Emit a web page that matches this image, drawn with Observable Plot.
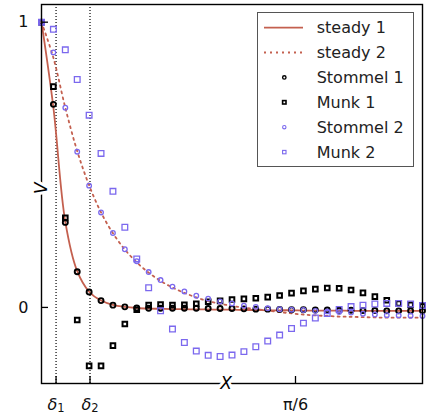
<!DOCTYPE html>
<html>
<head>
<meta charset="utf-8">
<script src="https://cdn.jsdelivr.net/npm/d3@7"></script>
<script src="https://cdn.jsdelivr.net/npm/@observablehq/plot@0.6"></script>
<style>
  html, body { margin: 0; padding: 0; background: white; }
  #chart { width: 430px; height: 418px; }
</style>
</head>
<body>
<div id="chart"></div>
<script>
// sample index (x = index * pi/128, 0 .. pi/4)
const nPts = 33;
const xTickValues = [0.03, 0.1, Math.PI / 6];
const xTickLabels = ["δ1", "δ2", "π/6"];
const yTickValues = [0, 1];
const yTickLabels = ["0", "1"];
const deltaLines = [0.03, 0.1];

const steady1 = [1.0, 0.70, 0.300, 0.127, 0.055, 0.024, 0.009, 0.002, -0.002, -0.004, -0.005, -0.006, -0.006, -0.007, -0.007, -0.008, -0.008, -0.009, -0.009, -0.010, -0.010, -0.010, -0.011, -0.011, -0.011, -0.011, -0.012, -0.012, -0.012, -0.012, -0.012, -0.012, -0.012];
const steady2 = [1.0, 0.875, 0.700, 0.548, 0.428, 0.333, 0.260, 0.203, 0.158, 0.122, 0.093, 0.070, 0.051, 0.035, 0.022, 0.013, 0.005, -0.001, -0.006, -0.011, -0.016, -0.021, -0.025, -0.028, -0.030, -0.032, -0.033, -0.034, -0.035, -0.036, -0.036, -0.036, -0.036];
const stommel1 = [1.0, 0.712, 0.298, 0.125, 0.054, 0.024, 0.008, 0.002, -0.002, -0.003, -0.003, -0.003, -0.003, -0.003, -0.004, -0.004, -0.004, -0.005, -0.006, -0.006, -0.007, -0.008, -0.008, -0.009, -0.009, -0.010, -0.010, -0.011, -0.011, -0.012, -0.012, -0.012, -0.012];
const munk1 = [1.0, 0.774, 0.314, -0.044, -0.205, -0.205, -0.134, -0.058, -0.008, 0.008, 0.010, 0.008, 0.009, 0.013, 0.020, 0.023, 0.028, 0.030, 0.032, 0.036, 0.042, 0.050, 0.058, 0.064, 0.068, 0.067, 0.061, 0.051, 0.038, 0.025, 0.014, 0.009, 0.004];
const stommel2 = [1.0, 0.894, 0.700, 0.546, 0.427, 0.333, 0.261, 0.204, 0.162, 0.124, 0.096, 0.073, 0.056, 0.041, 0.031, 0.021, 0.014, 0.006, 0.002, -0.003, -0.006, -0.008, -0.009, -0.012, -0.014, -0.016, -0.018, -0.022, -0.025, -0.027, -0.028, -0.029, -0.030];
const munk2 = [1.0, 0.975, 0.903, 0.799, 0.674, 0.540, 0.407, 0.281, 0.170, 0.069, -0.012, -0.076, -0.123, -0.153, -0.168, -0.172, -0.167, -0.155, -0.138, -0.118, -0.097, -0.074, -0.055, -0.037, -0.021, -0.007, 0.003, 0.008, 0.012, 0.014, 0.014, 0.012, 0.007];

const RED = "#c4604f";
const BLUE = "#7b68ee";

const xs = d3.range(nPts).map(i => i * Math.PI / 128);
const rows = arr => arr.map((v, i) => ({x: xs[i], v}));

const W = 430, H = 418;
const mL = 41, mR = 8, mT = 4, mB = 35;
const frameW = W - mL - mR, frameH = H - mT - mB;

const chart = Plot.plot({
  width: W, height: H,
  marginLeft: mL, marginRight: mR, marginTop: mT, marginBottom: mB,
  style: {fontFamily: "DejaVu Sans", fontSize: "16px", background: "white", color: "#111", overflow: "visible"},
  x: {domain: [0, Math.PI / 4], ticks: xTickValues, tickFormat: (d, i) => xTickLabels[i], tickSize: 0, tickPadding: 15, label: null},
  y: {domain: [-0.2667, 1.062], ticks: yTickValues, tickFormat: (d, i) => yTickLabels[i], tickSize: 0, tickPadding: 13, label: null},
  marks: [
    Plot.ruleX(deltaLines, {stroke: "black", strokeWidth: 1.2, strokeDasharray: "1,2"}),
    Plot.line(rows(steady1), {x: "x", y: "v", stroke: RED, strokeWidth: 1.8, curve: "catmull-rom"}),
    Plot.line(rows(steady2), {x: "x", y: "v", stroke: RED, strokeWidth: 1.8, strokeDasharray: "2,4", curve: "catmull-rom"}),
    Plot.dot(rows(stommel1), {x: "x", y: "v", r: 2.5, stroke: "black", strokeWidth: 1.9, fill: "none"}),
    Plot.dot(rows(munk1), {x: "x", y: "v", symbol: "square", r: 2.6, stroke: "black", strokeWidth: 2, fill: "none"}),
    Plot.dot(rows(stommel2), {x: "x", y: "v", r: 2.3, stroke: BLUE, strokeWidth: 1.3, fill: "none"}),
    Plot.dot(rows(munk2), {x: "x", y: "v", symbol: "square", r: 3.2, stroke: BLUE, strokeWidth: 1.3, fill: "none"}),
    Plot.frame({stroke: "black", strokeWidth: 1.4}),
    Plot.tickX(xTickValues, {stroke: "black", strokeWidth: 1.3, insetTop: frameH - 7}),
    Plot.tickY(yTickValues, {stroke: "black", strokeWidth: 1.3, insetRight: frameW - 7}),
    Plot.text(["X"], {frameAnchor: "bottom", dx: -6, text: d => d, fontStyle: "italic", fontSize: 17, fill: "black", stroke: "white", strokeWidth: 6, lineAnchor: "middle"}),
    Plot.text(["V"], {frameAnchor: "left", text: d => d, rotate: -90, fontStyle: "italic", fontSize: 17, fill: "black", stroke: "white", strokeWidth: 6, lineAnchor: "middle"})
  ]
});

document.getElementById("chart").appendChild(chart);

// subscripted delta tick labels
const svg = d3.select(chart);
svg.selectAll('g[aria-label="x-axis tick label"] text').each(function() {
  const t = d3.select(this);
  const s = t.text();
  if (s.startsWith("δ")) {
    t.text("");
    t.append("tspan").attr("font-style", "italic").text("δ");
    t.append("tspan").attr("font-size", 11.5).attr("dy", 2).text(s.slice(1));
  }
});

// legend
const legendEntries = [
  {label: "steady 1", kind: "line", color: RED, dash: null},
  {label: "steady 2", kind: "line", color: RED, dash: "2,4"},
  {label: "Stommel 1", kind: "circle", color: "black", sw: 1.4},
  {label: "Munk 1", kind: "square", color: "black", sw: 1.6},
  {label: "Stommel 2", kind: "circle", color: BLUE, sw: 1.1},
  {label: "Munk 2", kind: "square", color: BLUE, sw: 1.1}
];
const lg = svg.append("g").attr("font-family", "DejaVu Sans").attr("font-size", 16).attr("text-anchor", "start");
lg.append("rect").attr("x", 257.5).attr("y", 12.5).attr("width", 156).attr("height", 154)
  .attr("fill", "white").attr("stroke", "#555").attr("stroke-width", 1);
legendEntries.forEach((e, i) => {
  const cy = 27.6 + i * 24.9;
  if (e.kind === "line") {
    const l = lg.append("line").attr("x1", 264).attr("x2", 303).attr("y1", cy).attr("y2", cy)
      .attr("stroke", e.color).attr("stroke-width", 1.8);
    if (e.dash) l.attr("stroke-dasharray", e.dash);
  } else if (e.kind === "circle") {
    lg.append("circle").attr("cx", 284.3).attr("cy", cy).attr("r", 1.7)
      .attr("fill", "none").attr("stroke", e.color).attr("stroke-width", e.sw);
  } else {
    lg.append("rect").attr("x", 284.3 - 1.7).attr("y", cy - 1.7).attr("width", 3.4).attr("height", 3.4)
      .attr("fill", "none").attr("stroke", e.color).attr("stroke-width", e.sw);
  }
  lg.append("text").attr("x", 316.7).attr("y", cy).attr("dy", "0.35em").attr("text-anchor", "start").attr("fill", "#222").text(e.label);
});
</script>
</body>
</html>
